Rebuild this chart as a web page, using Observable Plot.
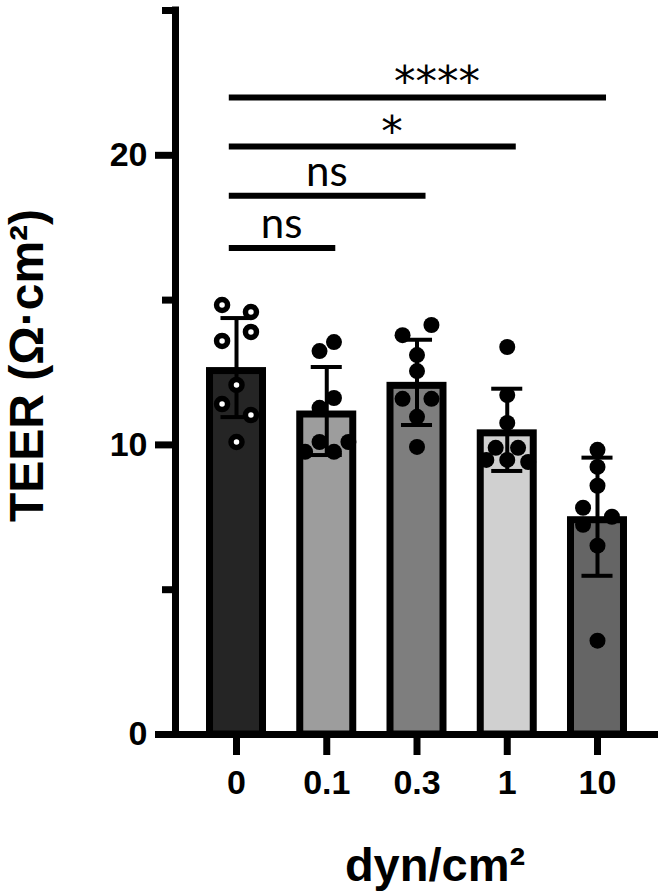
<!DOCTYPE html>
<html><head><meta charset="utf-8">
<script src="https://cdn.jsdelivr.net/npm/d3@7"></script>
<script src="https://cdn.jsdelivr.net/npm/@observablehq/plot@0.6"></script>
<style>
body{margin:0;background:#fff;}
#chart svg{display:block;}
</style>
</head><body><div id="chart"></div>
<script>
// ---- data ----
const categories = ["0", "0.1", "0.3", "1", "10"];
const barMeans = [12.67, 11.17, 12.16, 10.52, 7.52];
const barSDs = [1.71, 1.52, 1.47, 1.42, 2.04];

const pts_0   = [14.83, 14.59, 13.90, 13.59, 12.07, 11.41, 11.03, 10.10];
const lanes_0 = [-1, 1, 1, -1, 0, -1, 1, 0];
const pts_01   = [13.55, 13.24, 11.62, 11.28, 10.10, 10.10, 9.76, 9.76];
const lanes_01 = [0.5, -0.5, 0.5, -0.5, -0.5, 1.5, -1.5, 0.5];
const pts_03   = [14.14, 13.79, 13.10, 12.55, 11.59, 11.59, 10.97, 9.93];
const lanes_03 = [1, -1, 0, 0, -1, 1, 0, 0];
const pts_1   = [13.38, 11.72, 10.76, 9.90, 9.90, 9.48, 9.48, 9.41];
const lanes_1 = [0, 0, 0, -0.8, 0.75, -1.45, 0, 1.45];
const pts_10   = [9.83, 9.24, 8.59, 7.83, 7.52, 7.24, 6.52, 3.24];
const lanes_10 = [0, 0, 0, -1, 1, -1, 0, 0];

const sigFrom = [0, 0, 0, 0];
const sigTo = [1, 2, 3, 4];
const sigLevels = [16.8, 18.6, 20.3, 22.0];
const sigLabels = ["ns", "ns", "*", "****"];

const yMajorTicks = [0, 10, 20];
const yMinorTicks = [5, 15, 25];
const yLabel = "TEER (Ω·cm²)";
const xLabel = "dyn/cm²";

// ---- build tables ----
const bars = categories.map((c, i) => ({i, cat: c, mean: barMeans[i], sd: barSDs[i]}));
const groups = [[pts_0, lanes_0], [pts_01, lanes_01], [pts_03, lanes_03], [pts_1, lanes_1], [pts_10, lanes_10]];
const points = groups.flatMap(([vals, lanes], i) => vals.map((v, k) => ({i, v, lane: lanes[k]})));
const sig = sigLabels.map((label, k) => ({from: sigFrom[k], to: sigTo[k], level: sigLevels[k], label}));

const BAR_HALF = 0.3324;   // half bar width in category units
const CAP_HALF = 0.172;
const LANE = 0.16;
const xDomain = [-0.676, categories.length - 1 + 0.676];

const chart = Plot.plot({
  width: 666,
  height: 896,
  marginLeft: 175,
  marginRight: 8,
  marginTop: 10,
  marginBottom: 162,
  style: {fontFamily: "'Liberation Sans', Arial, sans-serif", color: "black", background: "white"},
  x: {type: "linear", domain: xDomain, label: null},
  y: {domain: [0, 25], label: null},
  color: {type: "ordinal", domain: categories, range: ["#252525", "#9d9d9d", "#7e7e7e", "#d0d0d0", "#656565"]},
  marks: [
    Plot.rectY(bars, {x1: d => d.i - BAR_HALF, x2: d => d.i + BAR_HALF, y1: 0, y2: "mean",
      fill: "cat", stroke: "black", strokeWidth: 7, insetTop: 3.5, insetLeft: 3.5, insetRight: 3.5}),
    Plot.ruleX(bars, {x: "i", y1: d => d.mean - d.sd, y2: d => d.mean + d.sd, stroke: "black", strokeWidth: 4}),
    Plot.ruleY(bars, {x1: d => d.i - CAP_HALF, x2: d => d.i + CAP_HALF, y: d => d.mean + d.sd, stroke: "black", strokeWidth: 4}),
    Plot.ruleY(bars, {x1: d => d.i - CAP_HALF, x2: d => d.i + CAP_HALF, y: d => d.mean - d.sd, stroke: "black", strokeWidth: 4}),
    Plot.dot(points.filter(d => d.i === 0), {x: d => d.i + d.lane * LANE, y: "v", r: 5.5, fill: "white", stroke: "black", strokeWidth: 5.5}),
    Plot.dot(points.filter(d => d.i !== 0), {x: d => d.i + d.lane * LANE, y: "v", r: 8, fill: "black", stroke: null}),
    // axes
    Plot.ruleY([0], {stroke: "black", strokeWidth: 7}),
    Plot.ruleX([xDomain[0]], {stroke: "black", strokeWidth: 7, strokeLinecap: "square"}),
    Plot.axisY(yMajorTicks, {tickSize: 20, strokeWidth: 7, tickPadding: 8, fontSize: 34, fontWeight: "bold", label: null}),
    Plot.axisY(yMinorTicks, {tickSize: 13, strokeWidth: 7, tickFormat: () => "", label: null}),
    Plot.axisX(categories.map((c, i) => i), {tickSize: 21, strokeWidth: 7, tickPadding: 14,
      tickFormat: i => categories[i], fontSize: 34, fontWeight: "bold", label: null}),
    // significance
    Plot.ruleY(sig, {x1: d => d.from - 0.08, x2: d => d.to + 0.1, y: "level", stroke: "black", strokeWidth: 6}),
    Plot.text(sig.filter(d => d.label === "ns"), {x: d => (d.from + d.to) / 2, y: "level", text: "label",
      lineAnchor: "bottom", dy: -10, fontSize: 42, fontFamily: "Lato, 'Open Sans', sans-serif"}),
    Plot.text(sig.filter(d => d.label !== "ns"), {x: d => (d.from + d.to) / 2, y: "level", text: "label",
      lineAnchor: "bottom", dx: 20, dy: -1, fontSize: 43, fontFamily: "'DejaVu Sans', sans-serif"}),
    // axis titles
    Plot.text([yLabel], {frameAnchor: "left", textAnchor: "middle", rotate: -90, dx: -133, dy: -7, lineAnchor: "bottom",
      fontSize: 48, fontWeight: "bold"}),
    Plot.text([xLabel], {frameAnchor: "bottom", textAnchor: "middle", lineAnchor: "bottom", dx: 18, dy: 146,
      fontSize: 47, fontWeight: "bold"})
  ]
});
document.getElementById("chart").appendChild(chart);
</script>
</body></html>
